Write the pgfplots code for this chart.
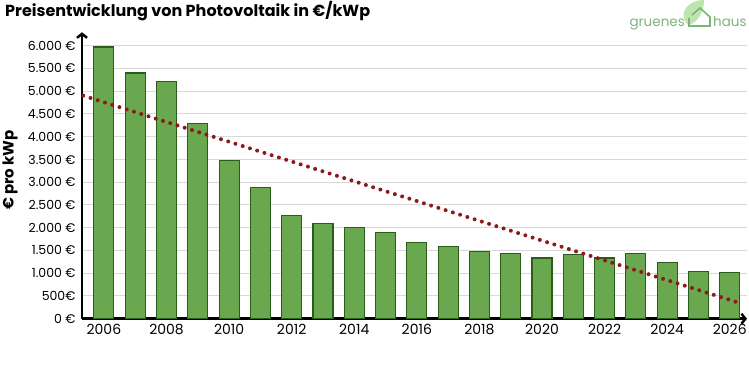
\documentclass[border=0pt]{standalone}
\usepackage{fontspec}
\setmainfont{Poppins}
\usepackage{pgfplots}
\pgfplotsset{compat=1.18}
\usetikzlibrary{arrows.meta}
\definecolor{barfill}{HTML}{6AA84F}
\definecolor{barline}{HTML}{2A5E18}
\definecolor{trend}{HTML}{8B1A1A}
\definecolor{logogreen}{HTML}{7DB27B}
\definecolor{leaf}{HTML}{BCE6AE}
\definecolor{gridgray}{HTML}{D9D9D9}
\begin{document}
\begin{tikzpicture}
\path[use as bounding box] (0,0) rectangle (749bp,369bp);
% logo
\fill[leaf] (688bp,344bp) .. controls (677bp,356bp) and (688bp,369bp) .. (704bp,369bp) .. controls (704bp,357bp) and (698bp,346bp) .. (688bp,344bp) -- cycle;
\draw[logogreen, line width=1.6bp, line join=miter] (689bp,351bp) -- (689bp,343bp) -- (710bp,343bp) -- (710bp,352bp) -- (700bp,361bp) -- (692bp,354bp);
\node[anchor=base east, inner sep=0pt, text=logogreen, font=\fontsize{13.5bp}{15bp}\selectfont] at (685bp,342bp) {gruenes};
\node[anchor=base west, inner sep=0pt, text=logogreen, font=\fontsize{13.5bp}{15bp}\selectfont] at (713bp,342bp) {haus};
\begin{axis}[
  at={(82bp,50.3bp)}, anchor=south west,
  scale only axis, width=665bp, height=286.4bp,
  xmin=2005.3, xmax=2026.55, ymin=0, ymax=6294,
  axis lines=left,
  axis line style={line width=2.4bp, -{Straight Barb[length=4bp,width=10bp,line width=2.4bp]}},
  ymajorgrids, grid style={gridgray, line width=1bp},
  ytick={0,500,...,6000},
  yticklabels={0 €,500€,1.000 €,1.500 €,2.000 €,2.500 €,3.000 €,3.500 €,4.000 €,4.500 €,5.000 €,5.500 €,6.000 €},
  xtick={2006,2008,...,2026},
  xticklabels={2006,2008,2010,2012,2014,2016,2018,2020,2022,2024,2026},
  major tick length=0,
  yticklabel style={font=\fontsize{12.5bp}{14bp}\selectfont, anchor=east, xshift=-3bp},
  xticklabel style={font=\fontsize{14bp}{16bp}\selectfont, anchor=north, yshift=-2bp},
  clip=false,
]
\addplot[ybar, bar width=20bp, fill=barfill, draw=barline, line width=1.1bp] coordinates {
(2006,5970) (2007,5400) (2008,5220) (2009,4280) (2010,3480) (2011,2890) (2012,2272)
(2013,2100) (2014,2000) (2015,1900) (2016,1680) (2017,1580) (2018,1480) (2019,1440)
(2020,1335) (2021,1410) (2022,1335) (2023,1440) (2024,1240) (2025,1040) (2026,1010)
};
\addplot[trend, line width=4bp, line cap=round, dash pattern=on 0bp off 7.6bp, sharp plot, mark=none] coordinates {(2005.34,4901) (2026.35,337)};
\end{axis}
\node[anchor=base west, inner sep=0pt, font=\fontsize{16bp}{19bp}\selectfont\bfseries] at (5bp,352bp) {Preisentwicklung von Photovoltaik in €/kWp};
\node[rotate=90, inner sep=0pt, font=\fontsize{15bp}{18bp}\selectfont\bfseries] at (10bp,199bp) {€ pro kWp};
\end{tikzpicture}
\end{document}
